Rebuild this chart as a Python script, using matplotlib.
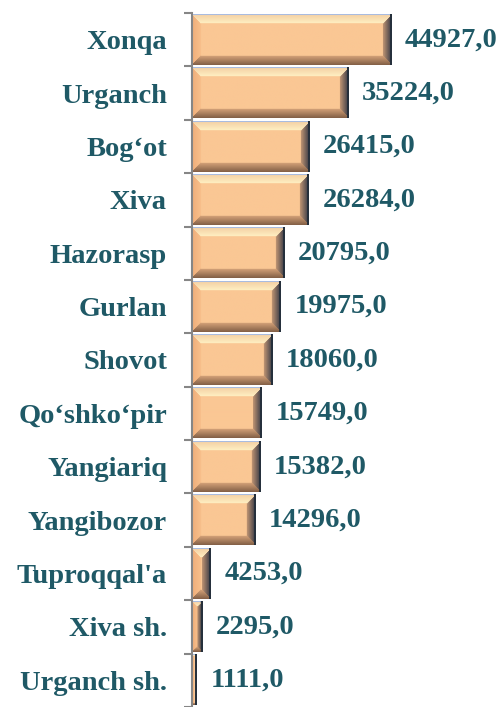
import numpy as np
import matplotlib
matplotlib.use("Agg")
import matplotlib.pyplot as plt
from matplotlib.colors import to_rgb

# --- Data ---

DISTRICTS = ["Xonqa", "Urganch", "Bog‘ot", "Xiva", "Hazorasp", "Gurlan", "Shovot",
             "Qo‘shko‘pir", "Yangiariq", "Yangibozor", "Tuproqqal'a", "Xiva sh.",
             "Urganch sh."]
VALUES = [44927.0, 35224.0, 26415.0, 26284.0, 20795.0, 19975.0, 18060.0,
          15749.0, 15382.0, 14296.0, 4253.0, 2295.0, 1111.0]

# --- Style ---

W_PX, H_PX, DPI = 503, 707, 100
AX_LEFT, AX_TOP = 192 / W_PX, 1 - 13 / H_PX
XMAX = 70200
BAR_H = 0.94
TEXT_COLOR = "#1F5966"
FONT = "Liberation Serif"
FONT_SIZE = 20.5

FACE = "#FAC794"
BEVEL = {
    "top": ("#F4D0A4", "#FFF1C4"),
    "left": ("#F0AE7A", "#F8C18D"),
    "bottom": ("#866248", "#D8A57B"),
    "right": ("#3A3B46", "#C99B76"),
}


def bevel_image(w, h, b=9):
    """RGB array of a bevelled bar, w x h pixels."""
    w, h = max(int(round(w)), 2), max(int(round(h)), 2)
    b = max(1, min(b, w // 2, h // 2))
    img = np.empty((h, w, 3))
    img[:] = to_rgb(FACE)
    r = np.arange(h)[:, None] * np.ones((1, w))
    c = np.ones((h, 1)) * np.arange(w)[None, :]
    dists = {"top": r, "bottom": h - 1 - r, "left": c, "right": w - 1 - c}
    stack = np.stack([dists[k] for k in ("top", "bottom", "left", "right")])
    side = np.argmin(stack, axis=0)
    dmin = stack.min(axis=0)
    for k, name in enumerate(("top", "bottom", "left", "right")):
        outer, inner = np.array(to_rgb(BEVEL[name][0])), np.array(to_rgb(BEVEL[name][1]))
        mask = (side == k) & (dmin < b)
        t = (dmin[mask] / b)[:, None]
        img[mask] = outer * (1 - t) + inner * t
    img[0, :] = to_rgb("#A9BCE0")
    img[:, -2:] = to_rgb("#26303C")
    return img


fig = plt.figure(figsize=(W_PX / DPI, H_PX / DPI), dpi=DPI)
ax = fig.add_axes([AX_LEFT, 0, 1 - AX_LEFT, AX_TOP])

y = np.arange(len(DISTRICTS))
ax.barh(y, VALUES, height=BAR_H, color=FACE, zorder=1)

ax_w_px = (1 - AX_LEFT) * W_PX
slot_px = AX_TOP * H_PX / len(DISTRICTS)
for yi, v in zip(y, VALUES):
    img = bevel_image(v / XMAX * ax_w_px, BAR_H * slot_px)
    ax.imshow(img, extent=(0, v, yi + BAR_H / 2, yi - BAR_H / 2),
              aspect="auto", interpolation="bilinear", zorder=2)
    ax.annotate(f"{v:.1f}".replace(".", ","), (v, yi), xytext=(10, 0),
                textcoords="offset points", ha="left", va="center",
                fontsize=FONT_SIZE, fontweight="bold", family=FONT, color=TEXT_COLOR)

ax.set_xlim(0, XMAX)
ax.set_ylim(len(DISTRICTS) - 0.5, -0.5)

ax.set_yticks(y)
ax.set_yticklabels(DISTRICTS, fontsize=FONT_SIZE, fontweight="bold", family=FONT,
                   color=TEXT_COLOR)
ax.tick_params(axis="y", which="major", length=0, pad=18)
ax.set_yticks(np.arange(len(DISTRICTS) + 1) - 0.5, minor=True)
ax.tick_params(axis="y", which="minor", length=6, width=1.5, color="#868686")
ax.set_xticks([])

for side in ("top", "right", "bottom"):
    ax.spines[side].set_visible(False)
ax.spines["left"].set_color("#868686")
ax.spines["left"].set_linewidth(1.5)

fig.savefig("out.png", dpi=DPI)
